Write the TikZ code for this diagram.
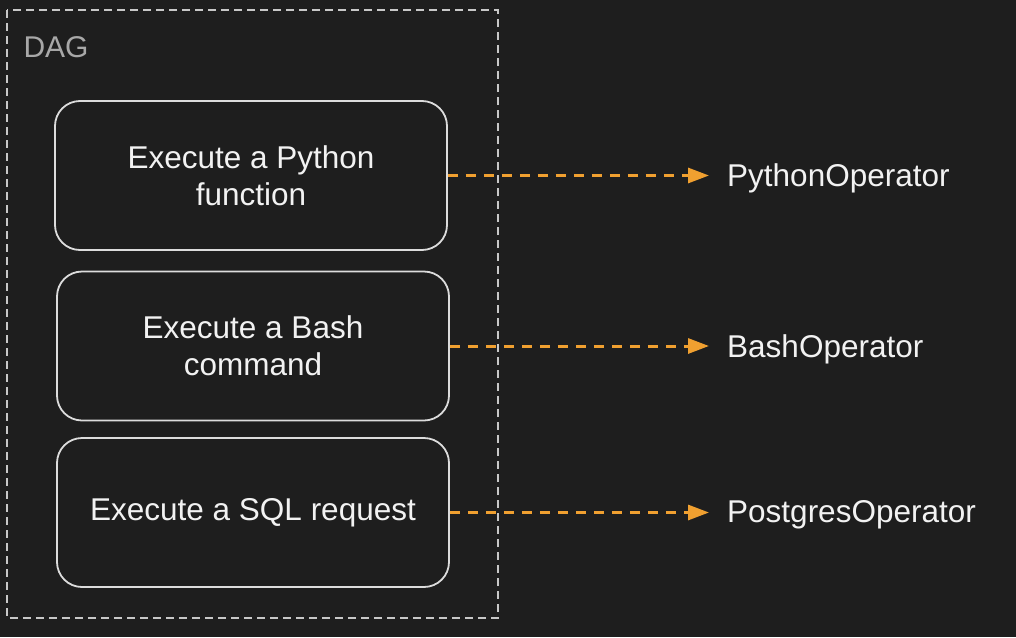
\documentclass[tikz,border=0pt]{standalone}
\usepackage{fontspec}
\setmainfont{Liberation Sans}
\usetikzlibrary{arrows.meta}

\definecolor{bgdark}{HTML}{1E1E1E}
\definecolor{boxline}{HTML}{DCDCDC}
\definecolor{dagline}{HTML}{C8C8C8}
\definecolor{daggray}{HTML}{A8A8A8}
\definecolor{txtwhite}{HTML}{F2F2F2}
\definecolor{oporange}{HTML}{F0A030}

\tikzset{
  taskbox/.style={draw=boxline, line width=1.8pt, rounded corners=25pt,
    minimum width=392pt, minimum height=149pt, align=center,
    text=txtwhite, font=\fontsize{31.5}{37}\selectfont},
  oplabel/.style={anchor=west, inner xsep=18pt, text=txtwhite,
    font=\fontsize{31.5}{37}\selectfont},
  flow/.style={draw=oporange, line width=3pt, dash pattern=on 10pt off 8pt,
    -{Triangle[length=21pt,width=15pt]}}
}

\begin{document}
\begin{tikzpicture}[x=1pt,y=-1pt]

\fill[bgdark] (0,0) rectangle (1016,637);
\useasboundingbox (0,0) rectangle (1016,637);

% the DAG frame
\draw[dagline, line width=1.8pt, dash pattern=on 8pt off 5pt] (7,10) rectangle (498,618);
\node[anchor=north west, text=daggray, font=\fontsize{30}{34}\selectfont] (dag) at (20,33) {DAG};

% tasks
\node[taskbox] (py) at (251,175.5) {Execute a Python\\function};
\node[taskbox] (bash) at (253,346) {Execute a Bash\\command};
\node[taskbox] (sql) at (253,512.5) {Execute a SQL request};

% operators
\node[oplabel] (pyop) at (709,178) {PythonOperator};
\node[oplabel] (bashop) at (709,349) {BashOperator};
\node[oplabel] (sqlop) at (709,515) {PostgresOperator};

\draw[flow] (py.east) -- (py.east -| pyop.west);
\draw[flow] (bash.east) -- (bash.east -| bashop.west);
\draw[flow] (sql.east) -- (sql.east -| sqlop.west);

\end{tikzpicture}
\end{document}
